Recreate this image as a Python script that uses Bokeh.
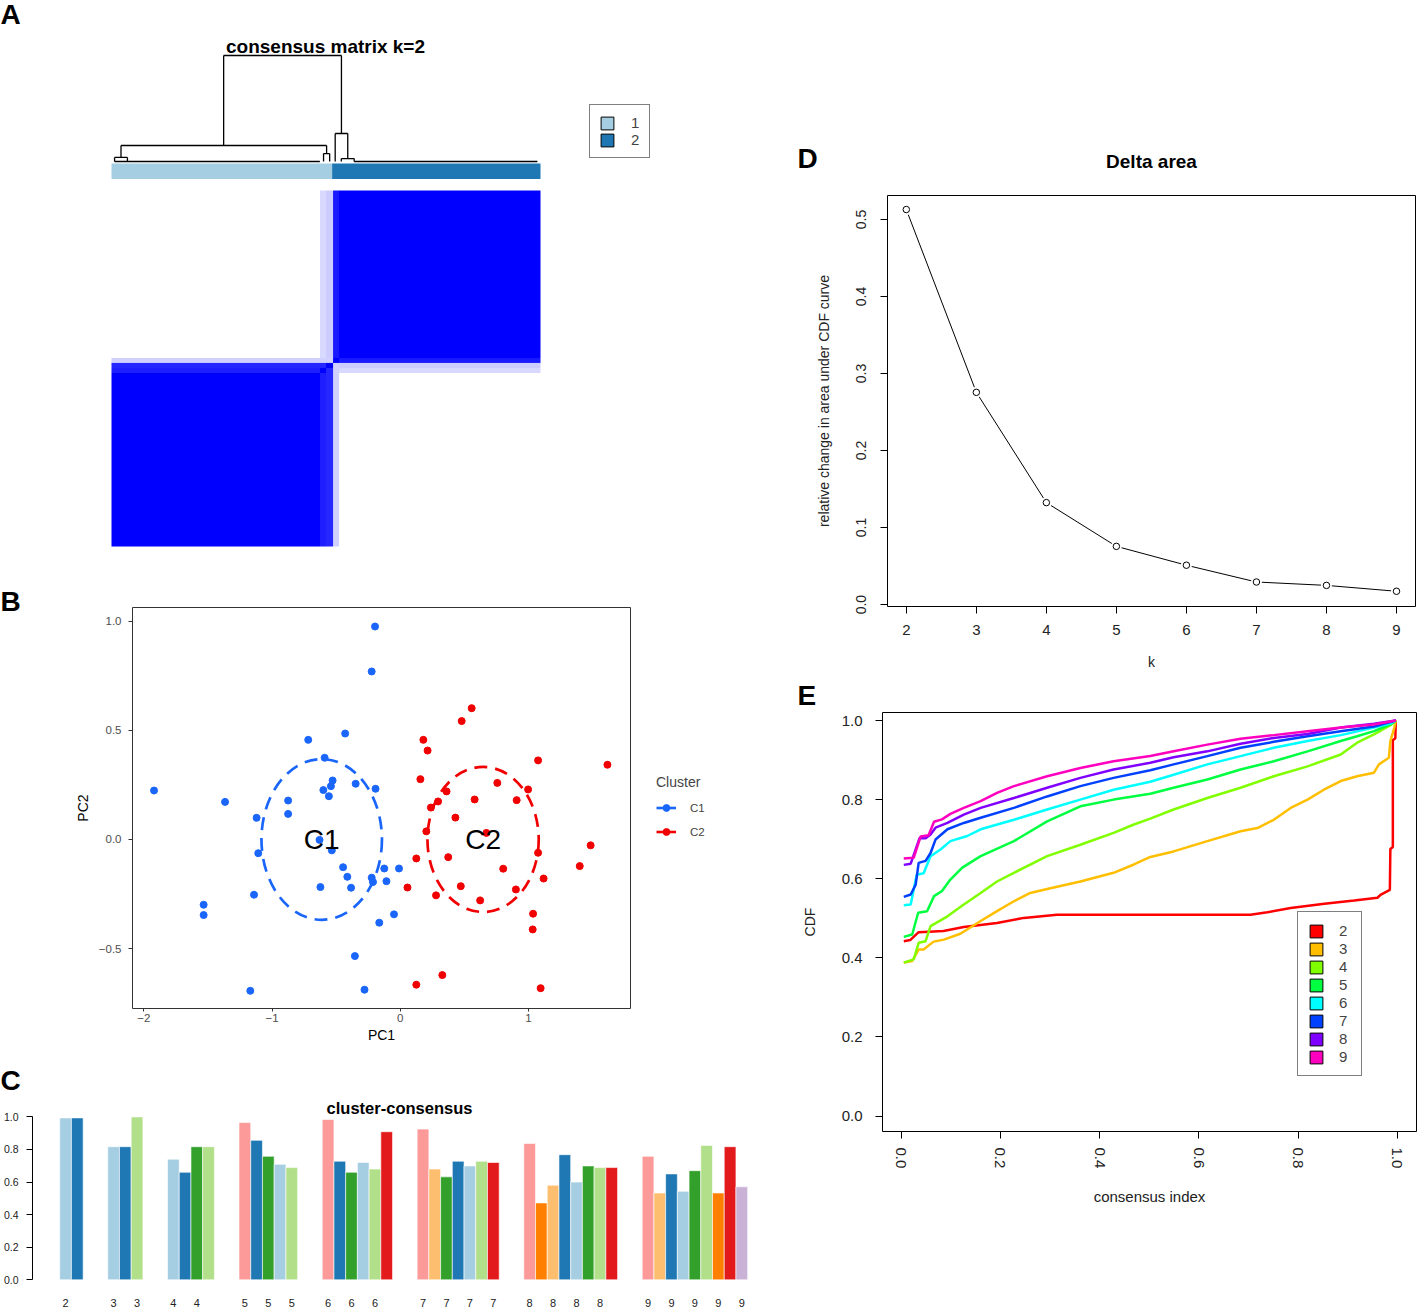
import numpy as np
from bokeh.plotting import figure
from bokeh.models import (Range1d, Label, Legend, LegendItem, FixedTicker,
                          PrintfTickFormatter, LinearColorMapper, Spacer, ColumnDataSource)
from bokeh.layouts import row, column
from bokeh.core.properties import value
from bokeh.embed import file_html
from bokeh.resources import INLINE

FONT = "Liberation Sans"
NAN = float("nan")

# ---------------- data : panel A (consensus matrix k=2) ----------------
n_cluster1 = 36
n_cluster2 = 34
ambig_samples = [34, 35, 36]
ambig_within = [0.88, 0.85, 0.90]
ambig_cross = [0.15, 0.20, 0.18]
# dendrogram merges (sample-position units, height = 1 - consensus)
dend_xl = [18.3, 1.55, 0.5, 34.6, 36.5, 37.5]
dend_xr = [37.52, 35.1, 2.6, 35.6, 38.55, 39.6]
dend_h = [1.0, 0.151, 0.038, 0.075, 0.264, 0.028]
dend_hl = [0.151, 0.038, 0.0, 0.0, 0.0, 0.0]
dend_hr = [0.264, 0.075, 0.0, 0.0, 0.028, 0.0]
leaf_x0 = [0.5, 39.6]
leaf_x1 = [34.0, 69.5]
anno_labels = ["1", "2"]

# ---------------- data : panel B (PCA) ----------------
c1_x = [-0.197, -0.223, -0.43, -0.718, -0.59, -0.528, -0.541, -0.348, -0.6, -0.557, -0.193, -1.921,
        -1.367, -0.875, -0.875, -1.121, -0.63, -1.108, -0.534, -0.446, -0.413, -0.384, -0.623, -0.223,
        -0.213, -0.125, -0.01, -0.108, -1.141, -1.534, -1.534, -0.049, -0.164, -0.354, -1.17, -0.279]
c1_y = [0.975, 0.769, 0.485, 0.456, 0.374, 0.27, 0.244, 0.255, 0.226, 0.198, 0.232, 0.224,
        0.172, 0.178, 0.117, 0.099, -0.002, -0.063, -0.05, -0.127, -0.171, -0.221, -0.218, -0.175,
        -0.195, -0.133, -0.133, -0.191, -0.253, -0.299, -0.346, -0.343, -0.381, -0.534, -0.693, -0.688]
c2_x = [0.557, 0.479, 0.18, 0.213, 1.075, 1.616, 0.157, 0.757, 0.997, 0.361, 0.58, 0.908,
        0.295, 0.239, 0.43, 0.203, 0.672, 1.485, 1.075, 0.125, 0.374, 0.803, 1.4, 1.118,
        0.056, 0.472, 0.279, 0.902, 0.623, 1.036, 1.033, 0.328, 0.125, 1.095]
c2_y = [0.601, 0.542, 0.456, 0.407, 0.362, 0.342, 0.276, 0.259, 0.229, 0.22, 0.183, 0.18,
        0.174, 0.146, 0.1, 0.037, 0.03, -0.027, -0.061, -0.087, -0.081, -0.134, -0.122, -0.179,
        -0.22, -0.214, -0.256, -0.229, -0.279, -0.34, -0.412, -0.621, -0.665, -0.681]
cluster_names = ["C1", "C2"]
ellipse_cx = [-0.613, 0.646]
ellipse_cy = [0.0, 0.0]
ellipse_w = [0.94, 0.868]
ellipse_h = [0.736, 0.664]
pca_xlim = (-2.089, 1.796)
pca_ylim = (-0.774, 1.062)

# ---------------- data : panel C (cluster-consensus) ----------------
cc_k2 = [0.994, 0.994]
cc_k3 = [0.817, 0.817, 1.0]
cc_k4 = [0.74, 0.66, 0.817, 0.817]
cc_k5 = [0.965, 0.856, 0.758, 0.709, 0.689]
cc_k6 = [0.984, 0.728, 0.66, 0.72, 0.68, 0.909]
cc_k7 = [0.925, 0.68, 0.632, 0.728, 0.699, 0.728, 0.72]
cc_k8 = [0.837, 0.472, 0.581, 0.768, 0.6, 0.699, 0.689, 0.689]
cc_k9 = [0.758, 0.533, 0.65, 0.543, 0.67, 0.825, 0.533, 0.817, 0.571]

# ---------------- data : panel D (delta area) ----------------
k_values = [2, 3, 4, 5, 6, 7, 8, 9]
delta_area = [0.513, 0.2756, 0.1324, 0.0756, 0.0511, 0.0293, 0.0249, 0.0173]

# ---------------- data : panel E (CDF) ----------------
cdf_k2_x = [0.005, 0.018, 0.035, 0.085, 0.126, 0.193, 0.247, 0.314, 0.704, 0.738, 0.785, 0.853, 0.913,
            0.96, 0.967, 0.985, 0.986, 0.991, 0.991, 0.996, 0.997]
cdf_k2_y = [0.442, 0.445, 0.465, 0.468, 0.478, 0.488, 0.501, 0.509, 0.509, 0.515, 0.526, 0.537, 0.545,
            0.552, 0.56, 0.572, 0.675, 0.68, 0.95, 0.955, 1.0]
cdf_k3_x = [0.005, 0.022, 0.035, 0.045, 0.065, 0.086, 0.119, 0.16, 0.193, 0.227, 0.26, 0.294, 0.361,
            0.428, 0.469, 0.502, 0.549, 0.617, 0.684, 0.718, 0.751, 0.785, 0.819, 0.852, 0.886, 0.919,
            0.953, 0.963, 0.983, 0.986, 0.994, 0.997]
cdf_k3_y = [0.388, 0.392, 0.421, 0.421, 0.441, 0.446, 0.461, 0.493, 0.518, 0.543, 0.564, 0.574, 0.593,
            0.615, 0.636, 0.655, 0.669, 0.695, 0.72, 0.728, 0.749, 0.779, 0.80, 0.825, 0.847, 0.859,
            0.868, 0.889, 0.906, 0.948, 0.982, 1.0]
cdf_k4_x = [0.005, 0.025, 0.035, 0.049, 0.059, 0.093, 0.126, 0.16, 0.193, 0.227, 0.294, 0.361, 0.428,
            0.469, 0.502, 0.549, 0.617, 0.684, 0.751, 0.819, 0.886, 0.919, 0.953, 0.986, 0.997]
cdf_k4_y = [0.388, 0.396, 0.438, 0.442, 0.48, 0.505, 0.535, 0.564, 0.593, 0.615, 0.657, 0.686, 0.716,
            0.737, 0.752, 0.775, 0.804, 0.83, 0.859, 0.884, 0.914, 0.944, 0.965, 0.988, 1.0]
cdf_k5_x = [0.005, 0.022, 0.034, 0.052, 0.066, 0.082, 0.099, 0.123, 0.16, 0.227, 0.294, 0.361, 0.428,
            0.502, 0.549, 0.617, 0.684, 0.751, 0.819, 0.886, 0.919, 0.953, 0.986, 0.997]
cdf_k5_y = [0.453, 0.459, 0.514, 0.518, 0.556, 0.569, 0.598, 0.628, 0.657, 0.695, 0.745, 0.783, 0.80,
            0.815, 0.83, 0.851, 0.876, 0.897, 0.922, 0.948, 0.96, 0.973, 0.99, 1.0]
cdf_k6_x = [0.005, 0.019, 0.031, 0.045, 0.059, 0.079, 0.099, 0.133, 0.16, 0.227, 0.294, 0.361, 0.428,
            0.502, 0.549, 0.617, 0.684, 0.751, 0.819, 0.886, 0.953, 0.986, 0.997]
cdf_k6_y = [0.533, 0.535, 0.61, 0.614, 0.657, 0.674, 0.695, 0.708, 0.725, 0.749, 0.775, 0.80, 0.825,
            0.845, 0.863, 0.889, 0.91, 0.931, 0.948, 0.963, 0.982, 0.992, 1.0]
cdf_k7_x = [0.005, 0.019, 0.029, 0.035, 0.049, 0.059, 0.069, 0.093, 0.126, 0.16, 0.227, 0.294, 0.361,
            0.428, 0.502, 0.549, 0.617, 0.684, 0.751, 0.819, 0.886, 0.953, 0.997]
cdf_k7_y = [0.554, 0.56, 0.585, 0.64, 0.645, 0.665, 0.699, 0.725, 0.741, 0.754, 0.779, 0.808, 0.834,
            0.855, 0.874, 0.889, 0.91, 0.931, 0.946, 0.96, 0.973, 0.985, 1.0]
cdf_k8_x = [0.005, 0.019, 0.037, 0.049, 0.059, 0.069, 0.093, 0.126, 0.16, 0.227, 0.294, 0.361, 0.428,
            0.502, 0.549, 0.617, 0.684, 0.751, 0.819, 0.886, 0.953, 0.997]
cdf_k8_y = [0.635, 0.638, 0.703, 0.702, 0.712, 0.729, 0.741, 0.762, 0.779, 0.804, 0.83, 0.855, 0.876,
            0.893, 0.907, 0.922, 0.941, 0.956, 0.966, 0.982, 0.992, 1.0]
cdf_k9_x = [0.005, 0.025, 0.039, 0.055, 0.066, 0.082, 0.099, 0.126, 0.16, 0.193, 0.227, 0.294, 0.361,
            0.428, 0.502, 0.549, 0.617, 0.684, 0.751, 0.819, 0.886, 0.953, 0.997]
cdf_k9_y = [0.651, 0.653, 0.707, 0.71, 0.744, 0.75, 0.764, 0.779, 0.796, 0.817, 0.834, 0.859, 0.88,
            0.897, 0.91, 0.922, 0.939, 0.954, 0.963, 0.973, 0.982, 0.99, 1.0]

# ---------------- styles ----------------
ANNO_COLORS = ["#A6CEE3", "#1F78B4"]
PCA_COLORS = ["#1A66FA", "#F00000"]
BAR_COLORS = {
    2: ["#A6CEE3", "#1F78B4"],
    3: ["#A6CEE3", "#1F78B4", "#B2DF8A"],
    4: ["#A6CEE3", "#1F78B4", "#33A02C", "#B2DF8A"],
    5: ["#FB9A99", "#1F78B4", "#33A02C", "#A6CEE3", "#B2DF8A"],
    6: ["#FB9A99", "#1F78B4", "#33A02C", "#A6CEE3", "#B2DF8A", "#E31A1C"],
    7: ["#FB9A99", "#FDBF6F", "#33A02C", "#1F78B4", "#A6CEE3", "#B2DF8A", "#E31A1C"],
    8: ["#FB9A99", "#FF7F00", "#FDBF6F", "#1F78B4", "#A6CEE3", "#33A02C", "#B2DF8A", "#E31A1C"],
    9: ["#FB9A99", "#FDBF6F", "#1F78B4", "#A6CEE3", "#33A02C", "#B2DF8A", "#FF7F00", "#E31A1C", "#CAB2D6"],
}
CDF_COLORS = ["#FF0000", "#FFBF00", "#80FF00", "#00FF40", "#00FFFF", "#0040FF", "#8000FF", "#FF00BF"]


def base_fig(w, h, xr, yr, ml, mr, mt, mb, axes=True):
    kw = dict(width=w, height=h, x_range=Range1d(*xr), y_range=Range1d(*yr),
              min_border_left=ml, min_border_right=mr, min_border_top=mt, min_border_bottom=mb,
              output_backend="svg", toolbar_location=None, title=None)
    if not axes:
        kw.update(x_axis_location=None, y_axis_location=None)
    p = figure(**kw)
    p.grid.visible = False
    p.background_fill_color = "white"
    p.border_fill_color = "white"
    p.outline_line_color = None
    if axes:
        for ax in p.axis:
            ax.major_label_text_font = FONT
            ax.axis_label_text_font = FONT
            ax.axis_label_text_font_style = "normal"
            ax.minor_tick_line_color = None
            ax.major_tick_in = 0
    return p


def blank_fig(w, h):
    return base_fig(w, h, (0, w), (0, h), 0, 0, 0, 0, axes=False)


def add_text(p, txt, x, y, size, bold=True, align="left", baseline="middle"):
    p.add_layout(Label(x=x, y=y, x_units="screen", y_units="screen", text=txt, text_font=FONT,
                       text_font_size=size, text_font_style="bold" if bold else "normal",
                       text_baseline=baseline, text_align=align, text_color="black"))


# ======================= left strip with panel letters A, B, C =======================
STRIP_H = 1097
stripL = blank_fig(40, STRIP_H)
add_text(stripL, "A", 0, STRIP_H - 14, "28px")
add_text(stripL, "B", 0, STRIP_H - 601, "28px")
add_text(stripL, "C", 0, STRIP_H - 1080, "28px")

# ======================= Panel A =======================
# figure spans page x 40..770, y 0..585 ; frame = whole figure
pA = base_fig(730, 585, (-11.585, 107.53), (-7.669, 107.36), 0, 0, 0, 0, axes=False)
pA.extra_y_ranges = {"dend": Range1d(-4.0, 1.5189), "anno": Range1d(-26.226, 11.516)}

labels = [1] * n_cluster1 + [2] * n_cluster2
n = len(labels)
lab = np.array(labels)
M = (lab[:, None] == lab[None, :]).astype(float)
for s, w_in, c_x in zip(ambig_samples, ambig_within, ambig_cross):
    for j in range(n):
        if j == s:
            continue
        v = w_in if labels[j] == labels[s] else c_x
        M[s, j] = v
        M[j, s] = v
pal = ["#%02x%02xff" % (v, v) for v in range(255, -1, -1)]
mapper = LinearColorMapper(palette=pal, low=0, high=1)
pA.image(image=[M], x=0, y=0, dw=n, dh=n, color_mapper=mapper)

sx0, sy0, sx1, sy1 = [], [], [], []
for xl, xr, h, hl, hr in zip(dend_xl, dend_xr, dend_h, dend_hl, dend_hr):
    sx0 += [xl, xl, xr]
    sy0 += [hl, h, h]
    sx1 += [xl, xr, xr]
    sy1 += [h, h, hr]
for a, b in zip(leaf_x0, leaf_x1):
    sx0.append(a); sy0.append(0.0); sx1.append(b); sy1.append(0.0)
pA.segment(x0=sx0, y0=sy0, x1=sx1, y1=sy1, y_range_name="dend", line_color="black", line_width=1.3)

lefts = [0, n_cluster1]
rights = [n_cluster1, n_cluster1 + n_cluster2]
pA.quad(left=lefts, right=rights, bottom=[0, 0], top=[1, 1], y_range_name="anno",
        fill_color=ANNO_COLORS, line_color=None)

legA_r = [pA.quad(left=[NAN], right=[NAN], top=[NAN], bottom=[NAN], fill_color=c,
                  line_color="black", line_width=1) for c in ANNO_COLORS]
legA = Legend(items=[LegendItem(label=l, renderers=[r]) for l, r in zip(anno_labels, legA_r)],
              location=(549, 427), padding=9, spacing=0, margin=0, glyph_width=16, glyph_height=16,
              label_standoff=16, label_width=9, label_height=13, label_text_font=FONT,
              label_text_font_size="15px", border_line_color="black", border_line_width=1,
              background_fill_color="white", background_fill_alpha=1)
pA.add_layout(legA)
add_text(pA, "consensus matrix k=2", 285, 539, "19px", align="center")

# ======================= Panel B =======================
# figure spans page x 40..640, y 585..1097 ; frame (panel box) x 132..630, y 607..1008
pB = base_fig(600, 512, pca_xlim, pca_ylim, 92, 10, 22, 89)
pB.outline_line_color = "#333333"
pB.outline_line_width = 1
src_e = ColumnDataSource(dict(x=ellipse_cx, y=ellipse_cy, w=ellipse_w, h=ellipse_h,
                              c=PCA_COLORS, t=cluster_names))
pB.ellipse(x="x", y="y", width="w", height="h", source=src_e, fill_color=None, line_color="c",
           line_width=2.7, line_dash="13 8")
pB.scatter(c1_x, c1_y, size=7, color=PCA_COLORS[0])
pB.scatter(c2_x, c2_y, size=7, color=PCA_COLORS[1])
pB.text(x="x", y="y", text="t", source=src_e, text_font=value(FONT), text_font_size="28px",
        text_align="center", text_baseline="middle", text_color="black")

pB.xaxis.ticker = FixedTicker(ticks=[-2, -1, 0, 1])
pB.xaxis.major_label_overrides = {-2: "\u22122", -1: "\u22121", 0: "0", 1: "1"}
pB.yaxis.ticker = FixedTicker(ticks=[-0.5, 0, 0.5, 1.0])
pB.yaxis.major_label_overrides = {-0.5: "\u22120.5", 0: "0.0", 0.5: "0.5", 1.0: "1.0"}
for ax in pB.axis:
    ax.axis_line_color = None
    ax.major_tick_line_color = "#333333"
    ax.major_label_text_font_size = "11.5px"
    ax.major_label_text_color = "#4D4D4D"
    ax.axis_label_text_font_size = "14px"
    ax.axis_label_text_color = "black"
pB.xaxis.major_tick_out = 3
pB.yaxis.major_tick_out = 4
pB.xaxis.axis_label = "PC1"
pB.yaxis.axis_label = "PC2"
pB.xaxis.major_label_standoff = 2
pB.xaxis.axis_label_standoff = 2
pB.yaxis.major_label_standoff = 7
pB.yaxis.axis_label_standoff = 5

# legend of panel B lives in its own blank figure to the right (page x 640..770)
legFigB = blank_fig(130, 512)
legB_items = []
for nm, c in zip(cluster_names, PCA_COLORS):
    r1 = legFigB.line(x=[NAN], y=[NAN], line_color=c, line_width=2.6)
    r2 = legFigB.scatter(x=[NAN], y=[NAN], size=7, color=c)
    legB_items.append(LegendItem(label=nm, renderers=[r1, r2]))
legB = Legend(items=legB_items, title="Cluster", location=(16, 257), padding=0, spacing=7, margin=0,
              glyph_width=20, glyph_height=17, label_standoff=14, label_height=13,
              label_text_font=FONT, label_text_font_size="11.5px", title_text_font=FONT,
              title_text_font_size="14px", title_text_font_style="normal", title_standoff=9,
              border_line_color=None, background_fill_alpha=0)
legFigB.add_layout(legB)

# ======================= Panel C =======================
# figure spans page x 0..770, y 1097..1312 ; frame x 32..770, y 1097..1283
pC = base_fig(770, 215, (-2.321, 60.648), (-0.0227, 1.1191), 32, 0, 0, 29)
cc_all = [cc_k2, cc_k3, cc_k4, cc_k5, cc_k6, cc_k7, cc_k8, cc_k9]
GAP = 2.1
bx, btop, bcol, tick_pos, tick_lab = [], [], [], [], []
start = 0.0
for k, vals in zip(k_values, cc_all):
    for j, v in enumerate(vals):
        xc = round(start + j + 0.5, 3)
        bx.append(xc); btop.append(v); bcol.append(BAR_COLORS[k][j])
        if j % 2 == 0:
            tick_pos.append(xc); tick_lab.append(str(k))
    start += len(vals) + GAP
pC.vbar(x=bx, top=btop, bottom=0, width=1.0, fill_color=bcol, line_color="white", line_width=0.6)
pC.xaxis.ticker = FixedTicker(ticks=tick_pos)
pC.xaxis.major_label_overrides = {p_: l_ for p_, l_ in zip(tick_pos, tick_lab)}
pC.xaxis.axis_line_color = None
pC.xaxis.major_tick_line_color = None
pC.xaxis.major_tick_out = 0
pC.xaxis.major_label_standoff = 15
pC.xaxis.major_label_text_font_size = "11px"
pC.xaxis.major_label_text_color = "#222222"
pC.yaxis.ticker = FixedTicker(ticks=[0, 0.2, 0.4, 0.6, 0.8, 1.0])
pC.yaxis.formatter = PrintfTickFormatter(format="%.1f")
pC.yaxis.bounds = (0, 1)
pC.yaxis.major_tick_out = 6
pC.yaxis.major_label_standoff = 8
pC.yaxis.major_label_text_font_size = "10.5px"
pC.yaxis.major_label_text_color = "#222222"
pC.yaxis.axis_line_color = "black"
add_text(pC, "cluster-consensus", 367, 176, "16.5px", align="center")

# ======================= right column headers =======================
hdrD = blank_fig(648, 63)          # page y 130..193
add_text(hdrD, "D", 27, 63 - 28, "28px")
add_text(hdrD, "Delta area", 381, 32, "19px", align="center")
hdrE = blank_fig(648, 35)          # page y 676..711
add_text(hdrE, "E", 27, 35 - 19, "28px")

# ======================= Panel D =======================
# figure spans page x 770..1418, y 193..676 ; frame x 887..1415, y 195..606
pD = base_fig(648, 483, (1.7315, 9.2714), (-0.0025, 0.5312), 117, 3, 2, 70)
pD.outline_line_color = "black"
pD.outline_line_width = 1
pD.line(k_values, delta_area, line_color="black", line_width=1)
pD.scatter(k_values, delta_area, size=11, fill_color="white", line_color=None)
pD.scatter(k_values, delta_area, size=6.5, fill_color="white", line_color="black", line_width=1)
pD.xaxis.ticker = FixedTicker(ticks=k_values)
pD.yaxis.ticker = FixedTicker(ticks=[0, 0.1, 0.2, 0.3, 0.4, 0.5])
pD.yaxis.formatter = PrintfTickFormatter(format="%.1f")
pD.yaxis.major_label_orientation = "vertical"
for ax in pD.axis:
    ax.axis_line_color = None
    ax.major_tick_out = 7
    ax.major_tick_line_color = "black"
    ax.major_label_text_color = "#222222"
    ax.axis_label_text_font_size = "14px"
    ax.axis_label_text_color = "#222222"
pD.xaxis.major_label_text_font_size = "15px"
pD.yaxis.major_label_text_font_size = "14px"
pD.xaxis.major_label_standoff = 11
pD.yaxis.major_label_standoff = 14
pD.xaxis.axis_label = "k"
pD.yaxis.axis_label = "relative change in area under CDF curve"
pD.xaxis.axis_label_standoff = 16
pD.yaxis.axis_label_standoff = 22

# ======================= Panel E =======================
# figure spans page x 770..1418, y 711..1312 ; frame x 882..1416, y 712..1131
pE = base_fig(648, 601, (-0.0379, 1.0387), (-0.039, 1.0202), 112, 2, 1, 181)
pE.outline_line_color = "black"
pE.outline_line_width = 1
cdf_x_all = [cdf_k2_x, cdf_k3_x, cdf_k4_x, cdf_k5_x, cdf_k6_x, cdf_k7_x, cdf_k8_x, cdf_k9_x]
cdf_y_all = [cdf_k2_y, cdf_k3_y, cdf_k4_y, cdf_k5_y, cdf_k6_y, cdf_k7_y, cdf_k8_y, cdf_k9_y]
for xs, ys, c in zip(cdf_x_all, cdf_y_all, CDF_COLORS):
    pE.line(xs, ys, line_color=c, line_width=2.5)
legE_r = [pE.quad(left=[NAN], right=[NAN], top=[NAN], bottom=[NAN], fill_color=c,
                  line_color="black", line_width=1) for c in CDF_COLORS]
legE = Legend(items=[LegendItem(label=str(k), renderers=[r]) for k, r in zip(k_values, legE_r)],
              location=(415, 55), padding=10, spacing=1, margin=0, glyph_width=16, glyph_height=16,
              label_standoff=15, label_width=12, label_height=13, label_text_font=FONT,
              label_text_font_size="15px", border_line_color="black", border_line_width=1,
              background_fill_color="white", background_fill_alpha=1)
pE.add_layout(legE)
ticksE = [0, 0.2, 0.4, 0.6, 0.8, 1.0]
pE.xaxis.ticker = FixedTicker(ticks=ticksE)
pE.yaxis.ticker = FixedTicker(ticks=ticksE)
for ax in pE.axis:
    ax.formatter = PrintfTickFormatter(format="%.1f")
    ax.axis_line_color = None
    ax.major_tick_out = 7
    ax.major_tick_line_color = "black"
    ax.major_label_text_font_size = "15px"
    ax.major_label_text_color = "#222222"
    ax.axis_label_text_color = "#222222"
pE.xaxis.major_label_orientation = "vertical"
pE.xaxis.major_label_standoff = 9
pE.yaxis.major_label_standoff = 13
pE.xaxis.axis_label = "consensus index"
pE.yaxis.axis_label = "CDF"
pE.xaxis.axis_label_text_font_size = "15px"
pE.yaxis.axis_label_text_font_size = "14px"
pE.xaxis.axis_label_standoff = 17
pE.yaxis.axis_label_standoff = 21

# ======================= layout (each plot wrapped so frames are not aligned) =======================
bandB = row(row(pB), row(legFigB))
left = column(row(stripL, column(row(pA), bandB)), row(pC))
right = column(Spacer(width=648, height=130), row(hdrD), row(pD), row(hdrE), row(pE))
layout = row(left, right)

open("out.html", "w").write(file_html(layout, INLINE))
